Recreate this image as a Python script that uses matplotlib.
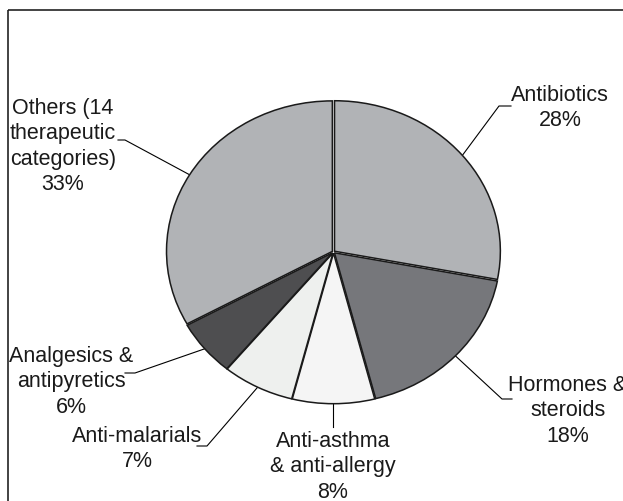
import numpy as np
import matplotlib.pyplot as plt
from matplotlib.patches import Rectangle

plt.rcParams['font.family'] = ['Liberation Sans', 'DejaVu Sans']

categories = ['Antibiotics', 'Hormones &\nsteroids', 'Anti-asthma\n& anti-allergy',
              'Anti-malarials', 'Analgesics &\nantipyretics',
              'Others (14\ntherapeutic\ncategories)']
shares = [28, 18, 8, 7, 6, 33]
colors = ['#b1b3b6', '#76777b', '#f5f5f5', '#eef0ee', '#4e4e50', '#b1b3b6']

# label layout in pixels: text centre x, text top y, elbow point, end x of leader
text_pos = [(560, 85), (568, 375), (333, 431), (137, 426), (71, 346), (63, 98)]
elbows = [(499, 107), (502, 400), None, (207, 447), (135, 374), (125, 141)]
ends = [511, 512, None, 197, 125, 118]

W, H = 623, 502
cx, cy, rx, ry = 333.5, 253, 167.5, 152

fig = plt.figure(figsize=(W / 100, H / 100), dpi=100)
bg = fig.add_axes([0, 0, 1, 1])
bg.set_xlim(0, W)
bg.set_ylim(H, 0)
bg.axis('off')
bg.add_patch(Rectangle((8, 11), W + 100, H + 100, fill=False, edgecolor='#222222', lw=1.2))

pie_ax = fig.add_axes([(cx - rx) / W, (H - cy - ry) / H, 2 * rx / W, 2 * ry / H])
wedges, _ = pie_ax.pie(shares, colors=colors, startangle=90, counterclock=False,
                       explode=[0.008] * len(shares),
                       wedgeprops=dict(edgecolor='#1a1a1a', linewidth=1.1))
pie_ax.set_aspect('auto')
pie_ax.set_xlim(-1.01, 1.01)
pie_ax.set_ylim(-1.01, 1.01)

for w, cat, v, tp, el, ex in zip(wedges, categories, shares, text_pos, elbows, ends):
    ang = np.deg2rad((w.theta1 + w.theta2) / 2)
    ax_ = cx + rx * np.cos(ang)
    ay_ = cy - ry * np.sin(ang)
    if el is None:
        bg.plot([ax_, ax_], [ay_, tp[1] - 3], color='black', lw=0.8)
    else:
        bg.plot([ax_, el[0], ex], [ay_, el[1], el[1]], color='black', lw=0.8)
    bg.text(tp[0], tp[1], cat + '\n' + f'{v}%', ha='center', va='top',
            fontsize=15.5, linespacing=1.27, color='#1a1a1a')

fig.savefig('out.png', dpi=100)
